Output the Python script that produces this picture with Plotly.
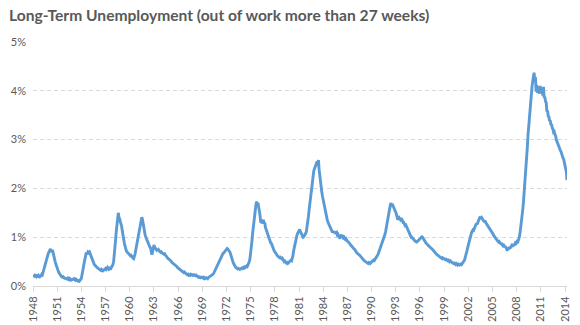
import pandas as pd
import plotly.graph_objects as go

# Share of the labour force unemployed for more than 27 weeks (%), monthly, Jan 1948 onward
rate_by_year = {
    1948: [0.22, 0.21, 0.20, 0.22, 0.20, 0.19, 0.21, 0.20, 0.22, 0.21, 0.19, 0.20],
    1949: [0.21, 0.24, 0.23, 0.28, 0.33, 0.38, 0.45, 0.52, 0.58, 0.63, 0.66, 0.68],
    1950: [0.70, 0.74, 0.76, 0.72, 0.70, 0.74, 0.66, 0.62, 0.56, 0.50, 0.45, 0.42],
    1951: [0.36, 0.33, 0.29, 0.26, 0.24, 0.22, 0.20, 0.19, 0.18, 0.19, 0.17, 0.16],
    1952: [0.16, 0.15, 0.15, 0.14, 0.16, 0.14, 0.13, 0.15, 0.14, 0.12, 0.13, 0.14],
    1953: [0.14, 0.15, 0.13, 0.12, 0.14, 0.12, 0.11, 0.10, 0.11, 0.10, 0.12, 0.13],
    1954: [0.16, 0.22, 0.30, 0.38, 0.46, 0.54, 0.60, 0.66, 0.68, 0.65, 0.70, 0.69],
    1955: [0.70, 0.66, 0.62, 0.60, 0.55, 0.52, 0.48, 0.45, 0.43, 0.41, 0.40, 0.38],
    1956: [0.37, 0.36, 0.35, 0.34, 0.33, 0.32, 0.34, 0.33, 0.31, 0.32, 0.34, 0.35],
    1957: [0.36, 0.34, 0.35, 0.38, 0.36, 0.34, 0.35, 0.37, 0.36, 0.38, 0.40, 0.44],
    1958: [0.50, 0.62, 0.78, 0.95, 1.12, 1.30, 1.45, 1.50, 1.40, 1.38, 1.32, 1.28],
    1959: [1.22, 1.12, 1.02, 0.96, 0.88, 0.82, 0.75, 0.72, 0.70, 0.68, 0.66, 0.65],
    1960: [0.64, 0.62, 0.63, 0.60, 0.58, 0.57, 0.56, 0.60, 0.66, 0.74, 0.82, 0.92],
    1961: [1.00, 1.08, 1.15, 1.22, 1.30, 1.38, 1.41, 1.36, 1.26, 1.18, 1.10, 1.04],
    1962: [1.00, 0.96, 0.92, 0.88, 0.84, 0.82, 0.80, 0.78, 0.72, 0.64, 0.70, 0.82],
    1963: [0.84, 0.80, 0.78, 0.76, 0.74, 0.76, 0.72, 0.74, 0.71, 0.70, 0.69, 0.70],
    1964: [0.68, 0.67, 0.66, 0.65, 0.66, 0.63, 0.62, 0.60, 0.58, 0.56, 0.55, 0.54],
    1965: [0.53, 0.52, 0.50, 0.48, 0.47, 0.46, 0.44, 0.43, 0.42, 0.41, 0.40, 0.38],
    1966: [0.37, 0.36, 0.35, 0.33, 0.32, 0.31, 0.30, 0.29, 0.28, 0.29, 0.27, 0.26],
    1967: [0.25, 0.24, 0.23, 0.24, 0.22, 0.23, 0.22, 0.24, 0.23, 0.22, 0.23, 0.22],
    1968: [0.23, 0.22, 0.21, 0.22, 0.20, 0.19, 0.18, 0.19, 0.18, 0.17, 0.18, 0.17],
    1969: [0.17, 0.18, 0.16, 0.17, 0.15, 0.16, 0.17, 0.16, 0.15, 0.17, 0.18, 0.19],
    1970: [0.19, 0.20, 0.21, 0.22, 0.24, 0.26, 0.29, 0.32, 0.35, 0.39, 0.42, 0.45],
    1971: [0.48, 0.52, 0.55, 0.58, 0.61, 0.64, 0.66, 0.67, 0.68, 0.70, 0.72, 0.74],
    1972: [0.74, 0.77, 0.76, 0.74, 0.73, 0.70, 0.66, 0.60, 0.56, 0.52, 0.48, 0.45],
    1973: [0.42, 0.40, 0.38, 0.37, 0.36, 0.35, 0.36, 0.35, 0.34, 0.35, 0.36, 0.37],
    1974: [0.36, 0.38, 0.37, 0.39, 0.38, 0.40, 0.41, 0.40, 0.43, 0.46, 0.50, 0.56],
    1975: [0.65, 0.78, 0.92, 1.08, 1.22, 1.38, 1.52, 1.62, 1.68, 1.73, 1.66, 1.70],
    1976: [1.62, 1.55, 1.45, 1.30, 1.36, 1.28, 1.34, 1.36, 1.28, 1.30, 1.20, 1.16],
    1977: [1.12, 1.06, 1.04, 0.98, 0.98, 0.94, 0.88, 0.87, 0.82, 0.78, 0.77, 0.72],
    1978: [0.70, 0.67, 0.66, 0.64, 0.62, 0.61, 0.60, 0.58, 0.59, 0.57, 0.56, 0.57],
    1979: [0.55, 0.52, 0.50, 0.51, 0.48, 0.47, 0.46, 0.48, 0.47, 0.49, 0.50, 0.52],
    1980: [0.53, 0.52, 0.55, 0.62, 0.72, 0.80, 0.86, 0.92, 0.98, 1.04, 1.08, 1.10],
    1981: [1.14, 1.16, 1.12, 1.08, 1.04, 1.02, 1.00, 1.01, 1.03, 1.06, 1.08, 1.12],
    1982: [1.20, 1.30, 1.42, 1.55, 1.68, 1.82, 1.96, 2.08, 2.20, 2.28, 2.36, 2.40],
    1983: [2.44, 2.48, 2.52, 2.55, 2.50, 2.58, 2.38, 2.22, 2.10, 2.00, 1.92, 1.84],
    1984: [1.76, 1.70, 1.62, 1.55, 1.48, 1.42, 1.36, 1.31, 1.28, 1.25, 1.22, 1.18],
    1985: [1.15, 1.14, 1.10, 1.13, 1.09, 1.12, 1.07, 1.09, 1.10, 1.05, 1.06, 1.02],
    1986: [0.99, 0.97, 1.03, 1.05, 1.01, 1.04, 0.99, 1.00, 0.96, 0.95, 0.97, 0.93],
    1987: [0.92, 0.91, 0.90, 0.88, 0.86, 0.84, 0.82, 0.80, 0.78, 0.77, 0.76, 0.75],
    1988: [0.72, 0.70, 0.68, 0.67, 0.66, 0.64, 0.63, 0.62, 0.60, 0.58, 0.57, 0.55],
    1989: [0.54, 0.52, 0.51, 0.50, 0.49, 0.48, 0.47, 0.46, 0.48, 0.47, 0.46, 0.48],
    1990: [0.49, 0.50, 0.52, 0.53, 0.52, 0.54, 0.55, 0.58, 0.60, 0.63, 0.66, 0.70],
    1991: [0.72, 0.74, 0.78, 0.82, 0.86, 0.90, 0.96, 1.00, 1.06, 1.12, 1.20, 1.30],
    1992: [1.40, 1.48, 1.55, 1.60, 1.66, 1.70, 1.62, 1.68, 1.64, 1.58, 1.56, 1.54],
    1993: [1.52, 1.48, 1.40, 1.36, 1.38, 1.40, 1.38, 1.36, 1.39, 1.37, 1.34, 1.30],
    1994: [1.30, 1.27, 1.24, 1.25, 1.22, 1.20, 1.18, 1.14, 1.10, 1.06, 1.02, 1.00],
    1995: [1.00, 0.98, 0.96, 0.94, 0.93, 0.92, 0.91, 0.90, 0.91, 0.92, 0.94, 0.95],
    1996: [0.96, 0.98, 1.00, 1.01, 1.00, 0.97, 0.94, 0.92, 0.90, 0.88, 0.87, 0.86],
    1997: [0.84, 0.82, 0.81, 0.79, 0.78, 0.77, 0.76, 0.74, 0.72, 0.70, 0.69, 0.67],
    1998: [0.66, 0.65, 0.64, 0.62, 0.61, 0.60, 0.59, 0.58, 0.57, 0.58, 0.56, 0.57],
    1999: [0.56, 0.55, 0.54, 0.55, 0.53, 0.52, 0.53, 0.51, 0.50, 0.52, 0.50, 0.49],
    2000: [0.48, 0.47, 0.46, 0.47, 0.45, 0.44, 0.46, 0.44, 0.43, 0.45, 0.44, 0.43],
    2001: [0.44, 0.45, 0.44, 0.46, 0.47, 0.50, 0.52, 0.56, 0.60, 0.66, 0.72, 0.78],
    2002: [0.84, 0.90, 0.96, 1.02, 1.06, 1.10, 1.12, 1.15, 1.14, 1.18, 1.22, 1.25],
    2003: [1.28, 1.26, 1.30, 1.34, 1.36, 1.40, 1.42, 1.38, 1.40, 1.37, 1.35, 1.33],
    2004: [1.32, 1.34, 1.30, 1.28, 1.25, 1.22, 1.20, 1.18, 1.16, 1.14, 1.13, 1.10],
    2005: [1.08, 1.06, 1.03, 1.01, 1.00, 0.98, 0.96, 0.94, 0.92, 0.90, 0.91, 0.88],
    2006: [0.87, 0.86, 0.88, 0.84, 0.82, 0.83, 0.80, 0.82, 0.78, 0.76, 0.78, 0.75],
    2007: [0.76, 0.80, 0.77, 0.79, 0.82, 0.84, 0.83, 0.86, 0.84, 0.85, 0.88, 0.87],
    2008: [0.90, 0.88, 0.91, 0.95, 1.00, 1.08, 1.18, 1.30, 1.42, 1.55, 1.70, 1.86],
    2009: [2.03, 2.20, 2.40, 2.62, 2.85, 3.10, 3.30, 3.50, 3.70, 3.88, 4.02, 4.10],
    2010: [4.20, 4.30, 4.37, 4.22, 4.28, 3.98, 4.12, 3.96, 4.08, 4.02, 3.94, 4.10],
    2011: [3.98, 4.06, 4.02, 3.90, 4.08, 3.86, 3.88, 3.78, 3.76, 3.58, 3.60, 3.48],
    2012: [3.47, 3.38, 3.40, 3.30, 3.32, 3.24, 3.22, 3.15, 3.16, 3.10, 3.08, 3.00],
    2013: [2.96, 2.90, 2.89, 2.84, 2.83, 2.78, 2.76, 2.70, 2.68, 2.62, 2.60, 2.50],
    2014: [2.48, 2.40, 2.34, 2.17],
}

tick_years = list(range(1948, 2015, 3))
y_ticks = [0, 1, 2, 3, 4, 5]
y_tick_labels = ["0%", "1%", "2%", "3%", "4%", "5%"]

rates = [v for yr in sorted(rate_by_year) for v in rate_by_year[yr]]
months = pd.date_range("1948-01-01", periods=len(rates), freq="MS")

GREY_TEXT = "#595959"
GRID = "#D9D9D9"

fig = go.Figure(
    go.Scatter(
        x=months,
        y=rates,
        mode="lines",
        line=dict(color="#5B9BD5", width=2.9),
        hoverinfo="skip",
    )
)

fig.update_layout(
    width=580,
    height=325,
    margin=dict(l=33, r=13, t=42, b=39, autoexpand=False),
    paper_bgcolor="white",
    plot_bgcolor="white",
    showlegend=False,
    font=dict(family="Lato", color=GREY_TEXT, size=11),
    title=dict(
        text="<b>Long-Term Unemployment (out of work more than 27 weeks)</b>",
        font=dict(family="Lato", size=15.6, color=GREY_TEXT),
        xref="container",
        yref="container",
        x=9 / 580,
        xanchor="left",
        y=1 - 10 / 325,
        yanchor="top",
    ),
)

fig.update_xaxes(
    range=[months[0], months[-1]],
    tickmode="array",
    tickvals=[pd.Timestamp(f"{y}-01-01") for y in tick_years],
    ticktext=[str(y) for y in tick_years],
    tickangle=-90,
    ticks="outside",
    ticklen=5,
    tickcolor=GRID,
    tickfont=dict(family="Lato", size=11, color=GREY_TEXT),
    showgrid=False,
    showline=True,
    linecolor=GRID,
    linewidth=1,
    zeroline=False,
    automargin=False,
)

fig.update_yaxes(
    range=[0, 5],
    tickmode="array",
    tickvals=y_ticks,
    ticktext=y_tick_labels,
    tickfont=dict(family="Lato", size=11, color=GREY_TEXT),
    showgrid=True,
    gridcolor=GRID,
    griddash="4px,3px",
    gridwidth=1,
    zeroline=False,
    showline=False,
    ticks="",
    ticklabelstandoff=6,
    automargin=False,
)

fig.write_html("out.html")
